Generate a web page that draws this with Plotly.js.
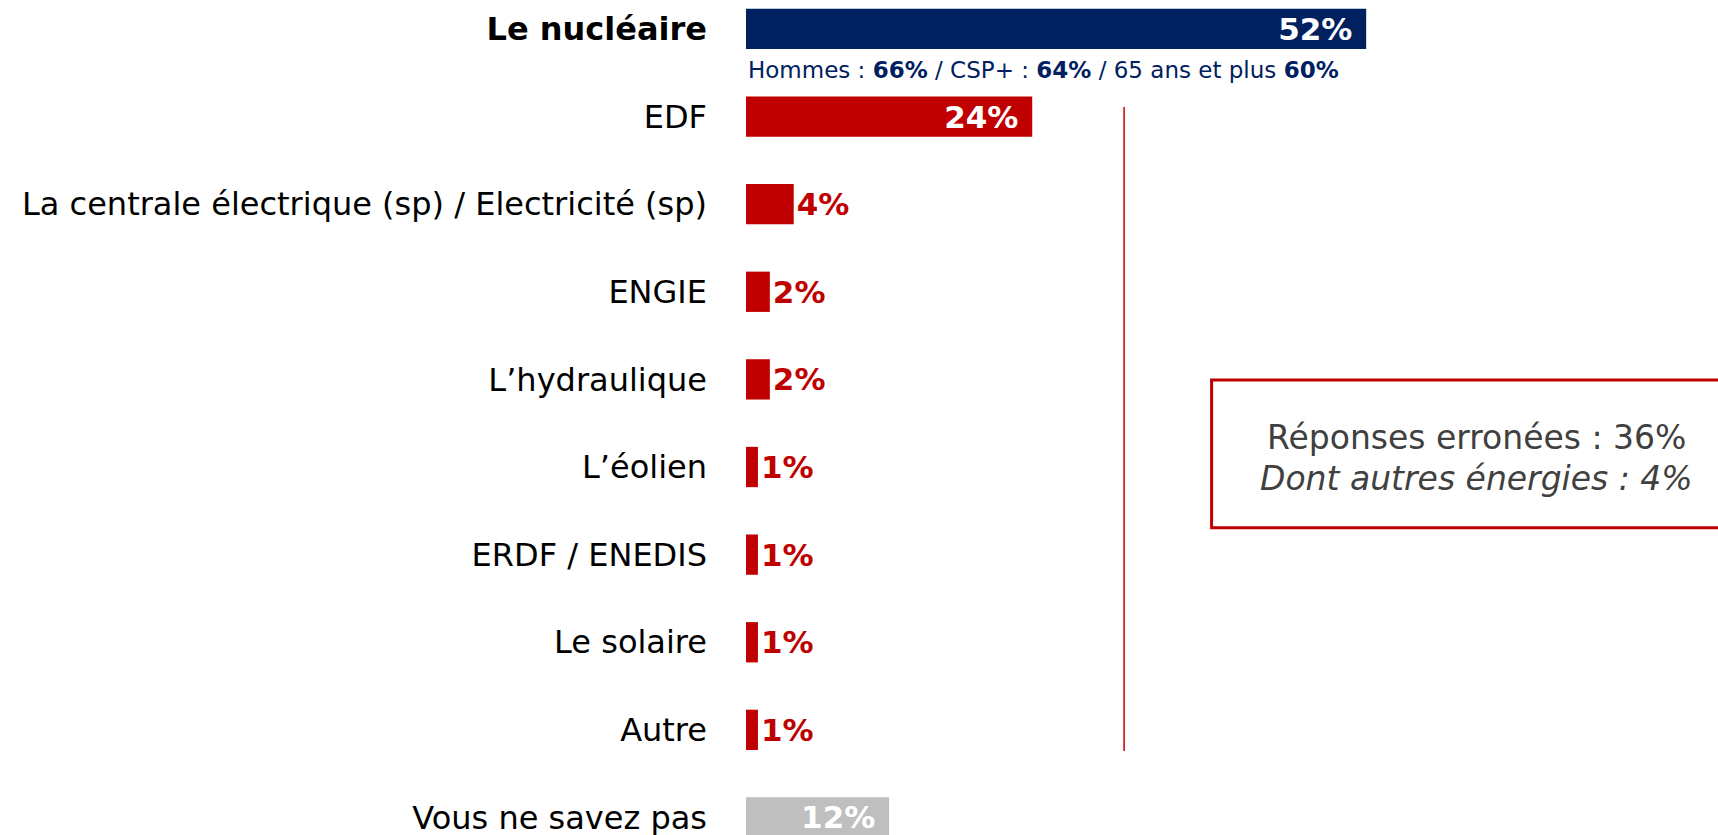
<!DOCTYPE html>
<html>
<head>
<meta charset="utf-8">
<script src="https://cdn.plot.ly/plotly-3.0.1.min.js"></script>
<style>html,body{margin:0;padding:0;background:#fff;}#chart{width:1718px;height:835px;}</style>
</head>
<body>
<div id="chart"></div>
<script>
const categories = ["Le nucléaire", "EDF", "La centrale électrique (sp) / Electricité (sp)", "ENGIE", "L’hydraulique", "L’éolien", "ERDF / ENEDIS", "Le solaire", "Autre", "Vous ne savez pas"];
const values = [52, 24, 4, 2, 2, 1, 1, 1, 1, 12];
const barColors = ["#002060", "#C00000", "#C00000", "#C00000", "#C00000", "#C00000", "#C00000", "#C00000", "#C00000", "#BFBFBF"];
const labelPositions = ["inside", "inside", "outside", "outside", "outside", "outside", "outside", "outside", "outside", "inside"];
const labelColors = ["#FFFFFF", "#FFFFFF", "#C00000", "#C00000", "#C00000", "#C00000", "#C00000", "#C00000", "#C00000", "#FFFFFF"];
const tickLabels = categories.map((c, i) => i === 0 ? "<b>" + c + "</b>" : c);
const subtitleText = "Hommes : <b>66%</b> / CSP+ : <b>64%</b> / 65 ans et plus <b>60%</b>";
const boxLine1 = "Réponses erronées : 36%";
const boxLine2 = "<i>Dont autres énergies : 4%</i>";

const trace = {
  type: "bar",
  orientation: "h",
  y: categories,
  x: values,
  width: 0.46,
  marker: { color: barColors },
  text: values.map((v, i) => labelPositions[i] === "inside" ? v + "%\u00a0" : v + "%"),
  textposition: labelPositions,
  insidetextanchor: "end",
  constraintext: "none",
  cliponaxis: false,
  textfont: { family: "DejaVu Sans", size: 31, color: labelColors, weight: "bold" },
  hoverinfo: "none"
};

const layout = {
  width: 1718,
  height: 835,
  margin: { l: 746, r: 0, t: 0, b: 0 },
  paper_bgcolor: "#fff",
  plot_bgcolor: "#fff",
  showlegend: false,
  font: { family: "DejaVu Sans", color: "#000" },
  xaxis: { range: [0, 81.5], visible: false, fixedrange: true },
  yaxis: {
    type: "category",
    range: [9.2, -0.33],
    tickmode: "array",
    tickvals: categories,
    ticktext: tickLabels,
    showgrid: false, zeroline: false, showline: false,
    ticks: "",
    ticklabelstandoff: 38,
    tickfont: { family: "DejaVu Sans", size: 32, color: "#000" }
  },
  shapes: [
    { type: "line", xref: "paper", yref: "paper", x0: 0.389, x1: 0.389, y0: 0.872, y1: 0.1006, line: { color: "#C00000", width: 1.5 } },
    { type: "rect", xref: "paper", yref: "paper", x0: 0.479, x1: 1.02, y0: 0.545, y1: 0.368, line: { color: "#C00000", width: 3 }, fillcolor: "rgba(0,0,0,0)" }
  ],
  annotations: [
    { xref: "paper", yref: "paper", x: 0, y: 0.916, xanchor: "left", yanchor: "middle", showarrow: false, text: subtitleText, font: { family: "DejaVu Sans", size: 23, color: "#002060" } },
    { xref: "paper", yref: "paper", x: 0.752, y: 0.4755, xanchor: "center", yanchor: "middle", showarrow: false, text: boxLine1, font: { family: "DejaVu Sans", size: 33, color: "#404040" } },
    { xref: "paper", yref: "paper", x: 0.752, y: 0.4275, xanchor: "center", yanchor: "middle", showarrow: false, text: boxLine2, font: { family: "DejaVu Sans", size: 33, color: "#404040" } }
  ]
};

Plotly.newPlot("chart", [trace], layout, { displayModeBar: false, staticPlot: true });
</script>
</body>
</html>
